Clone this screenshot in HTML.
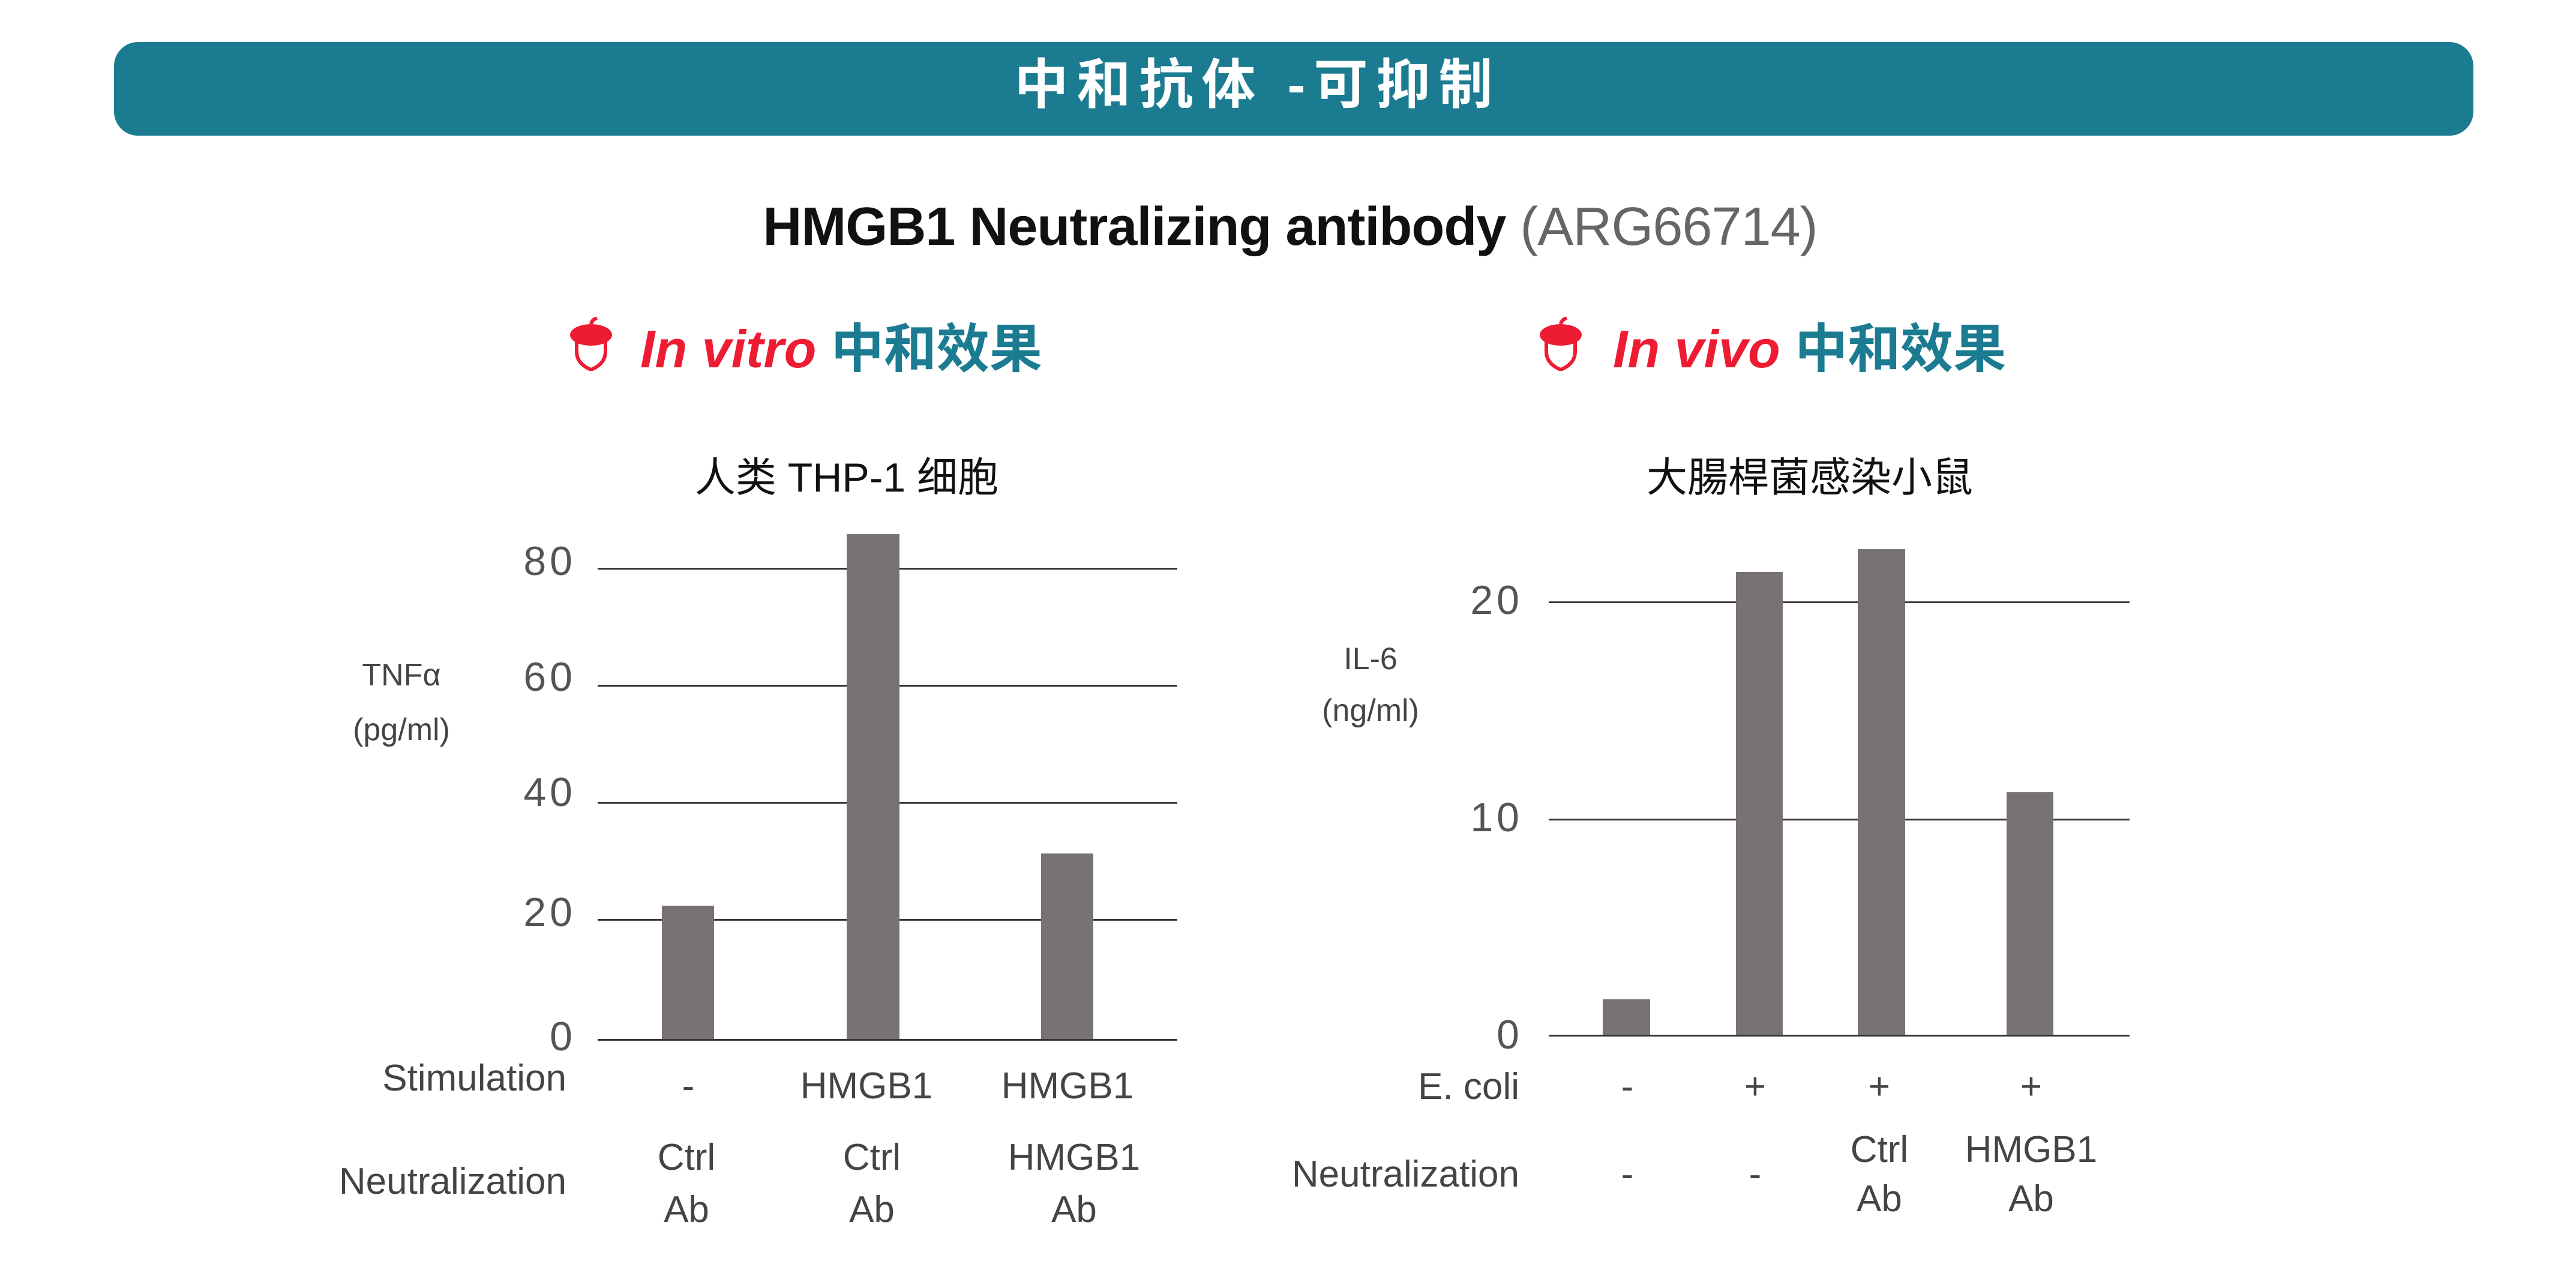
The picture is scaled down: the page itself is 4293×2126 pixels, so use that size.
<!DOCTYPE html>
<html><head><meta charset="utf-8">
<style>
html,body{margin:0;padding:0;background:#fff;}
body{width:4293px;height:2126px;position:relative;overflow:hidden;font-family:"Liberation Sans","Noto Sans CJK SC",sans-serif;}
.a{position:absolute;white-space:nowrap;line-height:1;}
.c{transform:translate(-50%,-50%);}
.r{transform:translate(-100%,-50%);}
.g{position:absolute;height:3px;background:#333;}
.b{position:absolute;background:#787372;}
.t{color:#444;font-size:62px;}
.n{color:#555;font-size:68px;letter-spacing:6px;}
</style></head><body>
<div style="position:absolute;left:190px;top:70px;width:3932px;height:156px;background:#1B7B91;border-radius:40px;"></div>
<div class="a c" style="left:2096px;top:142px;color:#fff;font-size:90px;font-weight:bold;letter-spacing:14px;">中和抗体 -可抑制</div>
<div class="a c" style="left:2150px;top:378px;font-size:90px;font-weight:bold;color:#111;letter-spacing:-1px;">HMGB1 Neutralizing antibody <span style="font-weight:normal;color:#666;">(ARG66714)</span></div>

<svg style="position:absolute;left:949px;top:528px" width="72" height="90" viewBox="0 0 72 90"><path d="M36 12 q2-8 10-10" stroke="#ED1C33" stroke-width="6" fill="none"/><ellipse cx="36" cy="30" rx="35" ry="18" fill="#ED1C33"/><path d="M12 40 v18 q0 20 24 30 q24-10 24-30 v-18" stroke="#ED1C33" stroke-width="6" fill="none"/></svg>
<div class="a" style="left:1067px;top:538px;font-size:88px;font-weight:bold;"><i style="color:#ED1C33">In vitro</i> <span style="color:#1B7B91">中和效果</span></div>
<svg style="position:absolute;left:2565px;top:528px" width="72" height="90" viewBox="0 0 72 90"><path d="M36 12 q2-8 10-10" stroke="#ED1C33" stroke-width="6" fill="none"/><ellipse cx="36" cy="30" rx="35" ry="18" fill="#ED1C33"/><path d="M12 40 v18 q0 20 24 30 q24-10 24-30 v-18" stroke="#ED1C33" stroke-width="6" fill="none"/></svg>
<div class="a" style="left:2688px;top:538px;font-size:88px;font-weight:bold;"><i style="color:#ED1C33">In vivo</i> <span style="color:#1B7B91">中和效果</span></div>

<!-- left chart -->
<div class="a c" style="left:1411px;top:796px;font-size:68px;color:#111;">人类 THP-1 细胞</div>
<div class="g" style="left:996px;width:966px;top:946px"></div>
<div class="g" style="left:996px;width:966px;top:1141px"></div>
<div class="g" style="left:996px;width:966px;top:1336px"></div>
<div class="g" style="left:996px;width:966px;top:1531px"></div>
<div class="b" style="left:1103px;width:87px;top:1509px;height:224px"></div>
<div class="b" style="left:1411px;width:88px;top:890px;height:843px"></div>
<div class="b" style="left:1735px;width:87px;top:1422px;height:311px"></div>
<div class="g" style="left:996px;width:966px;top:1731px"></div>
<div class="a r n" style="left:960px;top:935px">80</div>
<div class="a r n" style="left:960px;top:1128px">60</div>
<div class="a r n" style="left:960px;top:1320px">40</div>
<div class="a r n" style="left:960px;top:1520px">20</div>
<div class="a r n" style="left:960px;top:1727px">0</div>
<div class="a c" style="left:669px;top:1125px;font-size:52px;color:#444">TNFα</div>
<div class="a c" style="left:669px;top:1216px;font-size:52px;color:#444">(pg/ml)</div>
<div class="a r t" style="left:944px;top:1797px">Stimulation</div>
<div class="a r t" style="left:944px;top:1969px">Neutralization</div>
<div class="a c t" style="left:1147px;top:1810px">-</div>
<div class="a c t" style="left:1444px;top:1810px">HMGB1</div>
<div class="a c t" style="left:1779px;top:1810px">HMGB1</div>
<div class="a c t" style="left:1144px;top:1929px">Ctrl</div>
<div class="a c t" style="left:1144px;top:2016px">Ab</div>
<div class="a c t" style="left:1453px;top:1929px">Ctrl</div>
<div class="a c t" style="left:1453px;top:2016px">Ab</div>
<div class="a c t" style="left:1790px;top:1929px">HMGB1</div>
<div class="a c t" style="left:1790px;top:2016px">Ab</div>

<!-- right chart -->
<div class="a c" style="left:3016px;top:796px;font-size:68px;color:#111;">大腸桿菌感染小鼠</div>
<div class="g" style="left:2581px;width:968px;top:1002px"></div>
<div class="g" style="left:2581px;width:968px;top:1364px"></div>
<div class="b" style="left:2671px;width:79px;top:1665px;height:60px"></div>
<div class="b" style="left:2893px;width:78px;top:953px;height:772px"></div>
<div class="b" style="left:3096px;width:79px;top:915px;height:810px"></div>
<div class="b" style="left:3344px;width:78px;top:1320px;height:405px"></div>
<div class="g" style="left:2581px;width:968px;top:1724px"></div>
<div class="a r n" style="left:2538px;top:1000px">20</div>
<div class="a r n" style="left:2538px;top:1362px">10</div>
<div class="a r n" style="left:2538px;top:1724px">0</div>
<div class="a c" style="left:2284px;top:1098px;font-size:52px;color:#444">IL-6</div>
<div class="a c" style="left:2284px;top:1184px;font-size:52px;color:#444">(ng/ml)</div>
<div class="a r t" style="left:2532px;top:1811px">E. coli</div>
<div class="a r t" style="left:2532px;top:1957px">Neutralization</div>
<div class="a c t" style="left:2712px;top:1811px">-</div>
<div class="a c t" style="left:2925px;top:1811px">+</div>
<div class="a c t" style="left:3132px;top:1811px">+</div>
<div class="a c t" style="left:3385px;top:1811px">+</div>
<div class="a c t" style="left:2712px;top:1957px">-</div>
<div class="a c t" style="left:2925px;top:1957px">-</div>
<div class="a c t" style="left:3132px;top:1916px">Ctrl</div>
<div class="a c t" style="left:3132px;top:1998px">Ab</div>
<div class="a c t" style="left:3385px;top:1916px">HMGB1</div>
<div class="a c t" style="left:3385px;top:1998px">Ab</div>
</body></html>
